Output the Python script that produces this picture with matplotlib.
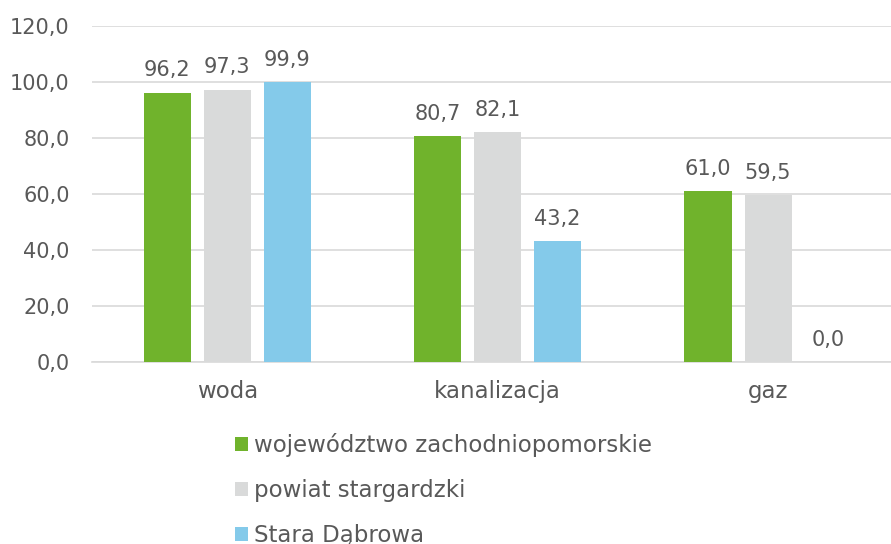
import numpy as np
import matplotlib.pyplot as plt

plt.rcParams['font.family'] = ['DejaVu Sans']

categories = ['woda', 'kanalizacja', 'gaz']
series_names = ['województwo zachodniopomorskie', 'powiat stargardzki', 'Stara Dąbrowa']
wojewodztwo = [96.2, 80.7, 61.0]
powiat = [97.3, 82.1, 59.5]
stara_dabrowa = [99.9, 43.2, 0.0]
colors = ['#70B32C', '#D9DADA', '#84CAEA']
text_color = '#595959'
fs = 15
fs_words = 16.5

fig = plt.figure(figsize=(8.91, 5.44), dpi=100)
ax = fig.add_axes([92 / 891, 1 - 362 / 544, 1 - 92 / 891, (362 - 26) / 544])

x = np.arange(len(categories))
width = 0.174
step = 0.222
for k, (vals, name, col) in enumerate(zip([wojewodztwo, powiat, stara_dabrowa], series_names, colors)):
    bars = ax.bar(x + (k - 1) * step, vals, width, color=col, label=name, zorder=3)
    for b, v in zip(bars, vals):
        ax.annotate(f'{v:.1f}'.replace('.', ','), (b.get_x() + b.get_width() / 2, v),
                    xytext=(0, 9), textcoords='offset points', ha='center', va='bottom',
                    fontsize=fs, color=text_color)

ax.set_ylim(0, 120)
ax.set_yticks(np.arange(0, 121, 20))
ax.set_yticklabels([f'{v:.1f}'.replace('.', ',') for v in np.arange(0, 121, 20)])
ax.set_xlim(-0.5, (891 - 227) / 270.5)
ax.set_xticks(x)
ax.set_xticklabels(categories, fontsize=fs_words)
ax.tick_params(axis='both', length=0, colors=text_color)
ax.tick_params(axis='y', labelsize=fs, pad=16)
ax.tick_params(axis='x', pad=13)
ax.grid(axis='y', color='#D9D9D9', linewidth=1.2, zorder=0)
for s in ['top', 'right', 'left']:
    ax.spines[s].set_visible(False)
ax.spines['bottom'].set_color('#D9D9D9')
ax.spines['bottom'].set_linewidth(1.2)

leg = fig.legend(loc='upper left', bbox_to_anchor=(226 / 891, 1 - 424 / 544), ncol=1,
                 frameon=False, fontsize=fs_words, handlelength=0.55, handleheight=0.55,
                 handletextpad=0.25, labelspacing=0.95, borderaxespad=0)
for t in leg.get_texts():
    t.set_color(text_color)

fig.savefig('out.png', dpi=100)
